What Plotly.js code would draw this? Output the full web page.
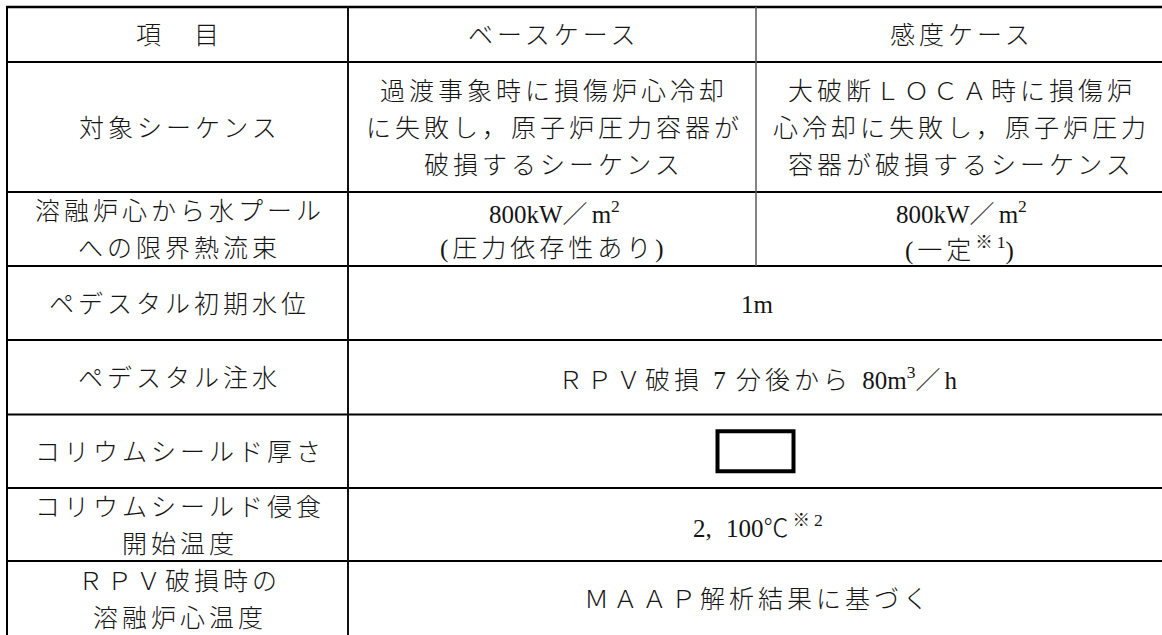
<!DOCTYPE html>
<html>
<head>
<meta charset="utf-8">
<script src="https://cdn.plot.ly/plotly-3.0.1.min.js"></script>
<style>
  html, body { margin: 0; padding: 0; background: #fff; }
  #chart { width: 1162px; height: 635px; }
  .annotation-text { letter-spacing: 4px; }
</style>
</head>
<body>
<div id="chart"></div>
<script>
// ---- table content ----
const headers = ['項　目', 'ベースケース', '感度ケース'];
const items = [
  '対象シーケンス',
  '溶融炉心から水プール<br>への限界熱流束',
  'ペデスタル初期水位',
  'ペデスタル注水',
  'コリウムシールド厚さ',
  'コリウムシールド侵食<br>開始温度',
  'ＲＰＶ破損時の<br>溶融炉心温度'
];
const baseCase = [
  '過渡事象時に損傷炉心冷却<br>に失敗し，原子炉圧力容器が<br>破損するシーケンス',
  '800kW／m<sup>2</sup><br>(圧力依存性あり)'
];
const sensitivityCase = [
  '大破断ＬＯＣＡ時に損傷炉<br>心冷却に失敗し，原子炉圧力<br>容器が破損するシーケンス',
  '800kW／m<sup>2</sup><br>(一定<sup>※1</sup>)'
];
// rows where both cases share one value (null = masked value, drawn as an empty box)
const commonValues = [
  '1m',
  'ＲＰＶ破損 7 分後から 80m<sup>3</sup>／h',
  null,
  '2, 100℃<sup>※2</sup>',
  'ＭＡＡＰ解析結果に基づく'
];

// ---- layout geometry (pixel-like axis units) ----
const colEdges = [7, 348, 756, 1163];
const rowEdges = [7, 62, 192, 266, 340, 414.5, 488, 561, 636];
const lineGap = 37;
const W = 1162, H = 635;

const font = { family: "'Liberation Serif', 'Noto Sans CJK JP', serif", size: 25, color: '#151515', weight: 300 };

const annotations = [];
const shapes = [];

// half-width letters/digits are set without the extra character spacing
function tightLatin(s) {
  return s.replace(/(<[^>]*>)|([A-Za-z0-9]+)/g, (m, tag, run) =>
    tag ? tag : '<span style="letter-spacing:0px">' + run + '</span>');
}

function addText(txt, cx, cy) {
  const lines = txt.split('<br>');
  const n = lines.length;
  lines.forEach((ln, i) => {
    annotations.push({
      x: cx + 2, y: cy + (i - (n - 1) / 2) * lineGap + 1,
      xref: 'x', yref: 'y', text: tightLatin(ln), showarrow: false,
      xanchor: 'center', yanchor: 'middle', font: font
    });
  });
}
const mid = (a, b) => (a + b) / 2;

// header row
headers.forEach((h, c) => addText(h, mid(colEdges[c], colEdges[c + 1]), mid(rowEdges[0], rowEdges[1])));

// item column
items.forEach((t, r) => addText(t, mid(colEdges[0], colEdges[1]), mid(rowEdges[r + 1], rowEdges[r + 2])));

// per-case rows
baseCase.forEach((t, r) => addText(t, mid(colEdges[1], colEdges[2]), mid(rowEdges[r + 1], rowEdges[r + 2])));
sensitivityCase.forEach((t, r) => addText(t, mid(colEdges[2], colEdges[3]), mid(rowEdges[r + 1], rowEdges[r + 2])));

// merged rows
const firstCommon = 1 + baseCase.length;
commonValues.forEach((t, k) => {
  const r = firstCommon + k;
  const cx = mid(colEdges[1], colEdges[3]);
  const cy = mid(rowEdges[r], rowEdges[r + 1]);
  if (t === null) {
    shapes.push({ type: 'rect', xref: 'x', yref: 'y', x0: cx - 38, x1: cx + 38, y0: cy - 20, y1: cy + 20,
      line: { color: '#000', width: 4 }, fillcolor: 'rgba(0,0,0,0)' });
  } else {
    addText(t, cx, cy);
  }
});

// grid lines
rowEdges.forEach((y, i) => {
  shapes.push({ type: 'line', xref: 'x', yref: 'y', x0: colEdges[0] - 1, x1: W, y0: y, y1: y,
    line: { color: '#000', width: i === 0 ? 2.5 : 2 } });
});
shapes.push({ type: 'line', xref: 'x', yref: 'y', x0: colEdges[0], x1: colEdges[0], y0: rowEdges[0], y1: H,
  line: { color: '#000', width: 2 } });
shapes.push({ type: 'line', xref: 'x', yref: 'y', x0: colEdges[1], x1: colEdges[1], y0: rowEdges[0], y1: H,
  line: { color: '#111', width: 2 } });
shapes.push({ type: 'line', xref: 'x', yref: 'y', x0: colEdges[2], x1: colEdges[2], y0: rowEdges[0], y1: rowEdges[firstCommon],
  line: { color: '#5a5a5a', width: 1.5 } });

const traces = [{
  type: 'scatter', mode: 'markers', x: [colEdges[0], colEdges[3]], y: [rowEdges[0], rowEdges[rowEdges.length - 1]],
  marker: { opacity: 0 }, hoverinfo: 'skip', showlegend: false
}];

const layout = {
  width: W, height: H,
  margin: { l: 0, r: 0, t: 0, b: 0, pad: 0 },
  paper_bgcolor: '#fff', plot_bgcolor: '#fff',
  xaxis: { range: [0, W], visible: false, fixedrange: true },
  yaxis: { range: [H, 0], visible: false, fixedrange: true },
  showlegend: false,
  annotations: annotations,
  shapes: shapes
};

Plotly.newPlot('chart', traces, layout, { staticPlot: true, displayModeBar: false });
</script>
</body>
</html>
